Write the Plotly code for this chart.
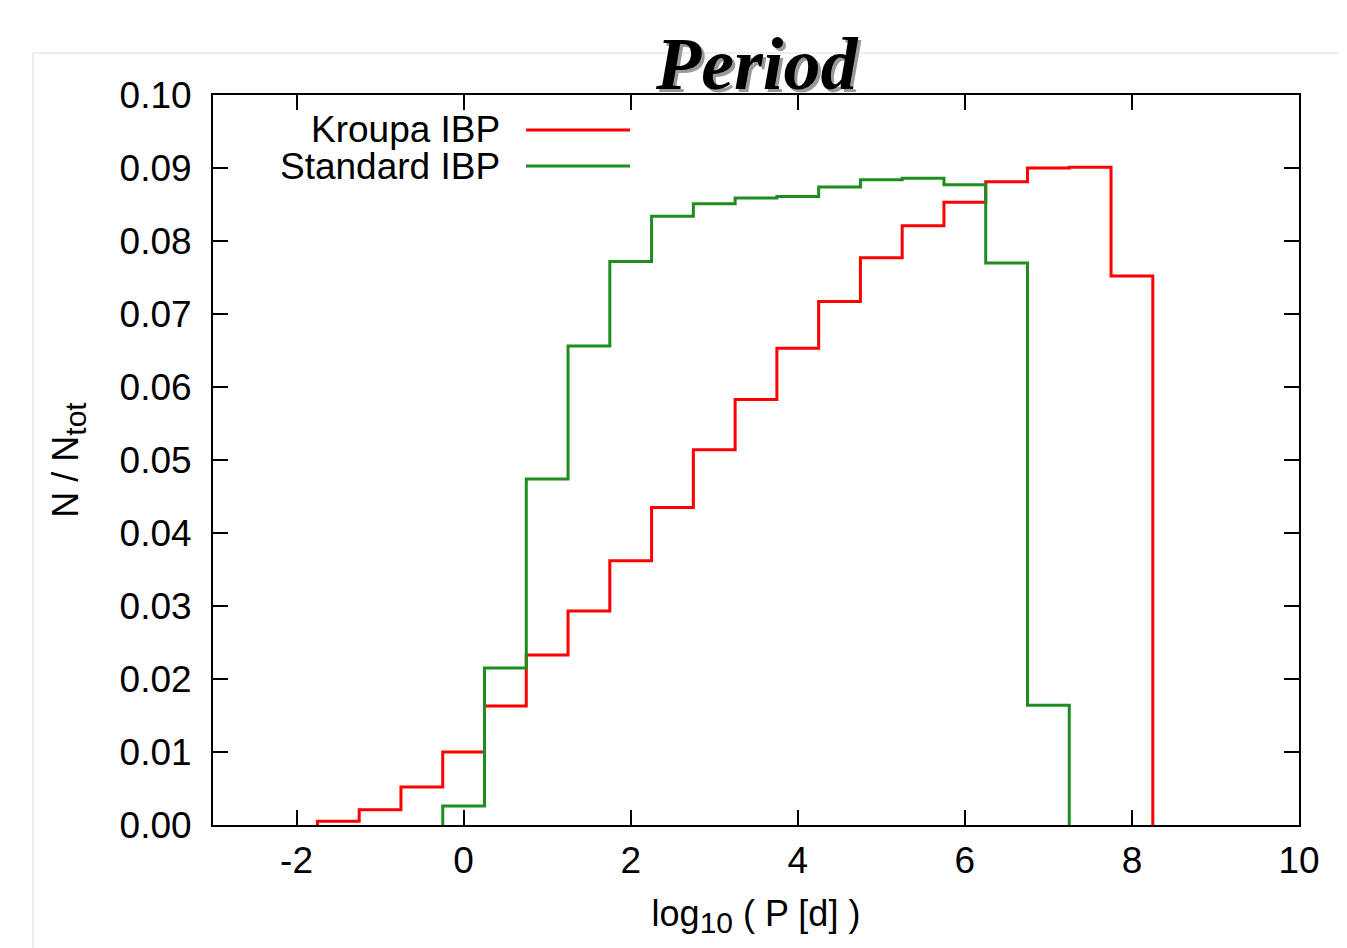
import plotly.graph_objects as go

# ---- data ----
kroupa_edges = [-1.75, -1.25, -0.75, -0.25, 0.25, 0.75, 1.25, 1.75, 2.25, 2.75,
                3.25, 3.75, 4.25, 4.75, 5.25, 5.75, 6.25, 6.75, 7.25, 7.75, 8.25]
kroupa_vals = [0.0005, 0.0021, 0.0052, 0.0100, 0.0163, 0.0233, 0.0293, 0.0362,
               0.0435, 0.0514, 0.0583, 0.0653, 0.0717, 0.0777, 0.0821, 0.0853,
               0.0881, 0.0900, 0.0901, 0.0752]

standard_edges = [-0.25, 0.25, 0.75, 1.25, 1.75, 2.25, 2.75, 3.25, 3.75, 4.25,
                  4.75, 5.25, 5.75, 6.25, 6.75, 7.25]
standard_vals = [0.0026, 0.0215, 0.0474, 0.0656, 0.0772, 0.0834, 0.0851, 0.0859,
                 0.0861, 0.0874, 0.0884, 0.0886, 0.0877, 0.0770, 0.0164]

x_ticks = [-2, 0, 2, 4, 6, 8, 10]
y_ticks = [0.00, 0.01, 0.02, 0.03, 0.04, 0.05, 0.06, 0.07, 0.08, 0.09, 0.10]
y_ticklabels = ["%.2f" % v for v in y_ticks]

series_names = ["Kroupa IBP", "Standard IBP"]
series_colors = ["#ff0000", "#1e8c1e"]

# the page body has an 8px margin; work in screen pixels and convert
OFF = 8
W, H = 1347 - OFF, 948 - OFF
L, R, T, B = 213, 1299, 95, 825  # plot area in screen pixels


def px_x(p):
    return (p - L) / (R - L)


def px_y(p):
    return (B - p) / (B - T)


def steps(edges, vals):
    xs = [edges[0]] + list(edges)
    ys = [0] + list(vals) + [0]
    return xs, ys


fig = go.Figure()
for edges, vals, name, col in [(kroupa_edges, kroupa_vals, series_names[0], series_colors[0]),
                               (standard_edges, standard_vals, series_names[1], series_colors[1])]:
    xs, ys = steps(edges, vals)
    fig.add_trace(go.Scatter(x=xs, y=ys, mode="lines", line_shape="hv", name=name,
                             line=dict(color=col, width=3), showlegend=False))

font_sans = "Liberation Sans, Arial, Helvetica, sans-serif"

# page-border lines (light gray)
fig.add_shape(type="line", xref="paper", yref="paper", x0=px_x(33), x1=px_x(1347), y0=px_y(53), y1=px_y(53),
              line=dict(color="#dcdcdc", width=1), layer="below")
fig.add_shape(type="line", xref="paper", yref="paper", x0=px_x(33), x1=px_x(33), y0=px_y(53), y1=px_y(948),
              line=dict(color="#dcdcdc", width=1), layer="below")

# legend (gnuplot style: text right-aligned, sample on the right)
for i, (name, col) in enumerate(zip(series_names, series_colors)):
    yy = 130 + 36 * i
    fig.add_annotation(xref="paper", yref="paper", x=px_x(502), y=px_y(yy), text=name,
                       showarrow=False, xanchor="right", yanchor="middle",
                       font=dict(family=font_sans, size=37, color="black"))
    fig.add_shape(type="line", xref="paper", yref="paper", x0=px_x(526), x1=px_x(630),
                  y0=px_y(yy), y1=px_y(yy), line=dict(color=col, width=3))

# title with shadow
for dx, dy, c in [(3, -3, "#9a9a9a"), (0, 0, "black")]:
    fig.add_annotation(xref="paper", yref="paper", x=0.5, y=px_y(64), text="<b><i>Period</i></b>",
                       showarrow=False, xanchor="center", yanchor="middle", xshift=dx, yshift=dy,
                       font=dict(family="Liberation Serif, Times New Roman, serif", size=74, color=c))

fig.update_layout(
    width=W, height=H,
    margin=dict(l=L - OFF, r=W - (R - OFF), t=T - OFF, b=H - (B - OFF), autoexpand=False),
    paper_bgcolor="white", plot_bgcolor="white",
    font=dict(family=font_sans, size=37, color="black"),
    xaxis=dict(range=[-3, 10], tickvals=x_ticks, ticktext=[str(v) for v in x_ticks],
               showgrid=False, zeroline=False, showline=True, linecolor="black", linewidth=2,
               mirror="ticks", ticks="inside", ticklen=15, tickwidth=2, tickcolor="black",
               ticklabelstandoff=2,
               title=dict(text="log<sub><span style='font-size:30px'>10</span></sub> ( P [d] )", standoff=20,
                          font=dict(family=font_sans, size=36))),
    yaxis=dict(range=[0, 0.10], tickvals=y_ticks, ticktext=y_ticklabels,
               showgrid=False, zeroline=False, showline=True, linecolor="black", linewidth=2,
               mirror="ticks", ticks="inside", ticklen=15, tickwidth=2, tickcolor="black",
               ticklabelstandoff=12,
               title=dict(text="N / N<sub><span style='font-size:30px'>tot</span></sub>", standoff=30,
                          font=dict(family=font_sans, size=36))),
)

fig.write_html("out.html")
